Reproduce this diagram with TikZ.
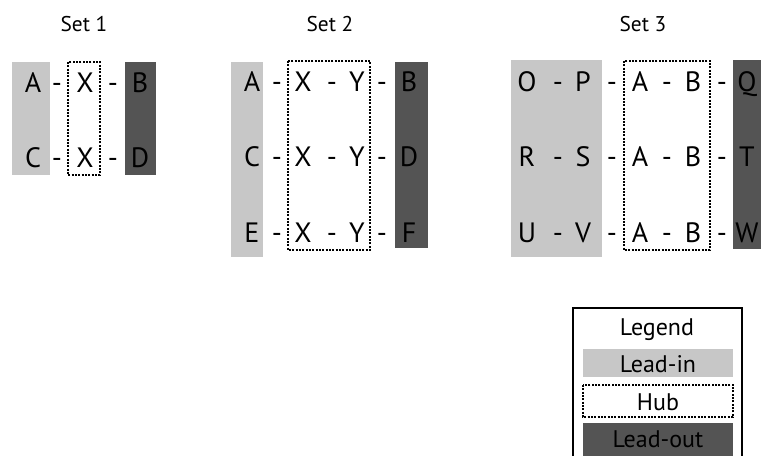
\documentclass[tikz,border=0pt]{standalone}
\usepackage{fontspec}
\setmainfont{PT Sans}
\usetikzlibrary{scopes}

\definecolor{leadingray}{gray}{0.78}
\definecolor{leadoutgray}{gray}{0.33}
\tikzset{
  leadin/.style={fill=leadingray},
  hub/.style={draw, densely dotted, line width=1.5pt},
  leadout/.style={fill=leadoutgray},
  letter/.style={inner sep=0pt, anchor=base, font=\fontsize{21}{24}\selectfont},
  settitle/.style={inner sep=0pt, anchor=base, font=\fontsize{16}{19}\selectfont},
  legendtext/.style={inner sep=0pt, anchor=base, font=\fontsize{18}{21}\selectfont},
}

\begin{document}
\begin{tikzpicture}[x=0.75pt, y=-0.75pt]
  \useasboundingbox (0,0) rectangle (761,456);
  \clip (0,0) rectangle (761,456);

  % Set 1
  \node[settitle] (t1) at (84,32) {Set 1};
  \fill[leadin] (12,62) rectangle (50,175);
  \draw[hub] (68,62) rectangle (100,175);
  \fill[leadout] (125,62) rectangle (156,175);
  \foreach \l/\r/\y [count=\i] in {A/B/93, C/D/168} {
    \node[letter] (s1l\i) at (33,\y) {\l};
    \node[letter] (s1da\i) at (57,\y) {-};
    \node[letter] (s1h\i) at (85,\y) {X};
    \node[letter] (s1db\i) at (113,\y) {-};
    \node[letter] (s1r\i) at (140,\y) {\r};
  }

  % Set 2
  \node[settitle] (t2) at (330,32) {Set 2};
  \fill[leadin] (231,62) rectangle (263,257);
  \draw[hub] (288,61) rectangle (370,250);
  \fill[leadout] (395,62) rectangle (428,248);
  \foreach \l/\r/\y [count=\i] in {A/B/92, C/D/167, E/F/243} {
    \node[letter] (s2l\i) at (252,\y) {\l};
    \node[letter] (s2da\i) at (277,\y) {-};
    \node[letter] (s2x\i) at (303,\y) {X};
    \node[letter] (s2db\i) at (332,\y) {-};
    \node[letter] (s2y\i) at (357,\y) {Y};
    \node[letter] (s2dc\i) at (382,\y) {-};
    \node[letter] (s2r\i) at (409,\y) {\r};
  }

  % Set 3
  \node[settitle] (t3) at (643,32) {Set 3};
  \fill[leadin] (511,60) rectangle (602,257);
  \draw[hub] (624,61) rectangle (710,250);
  \fill[leadout] (733,60) rectangle (775,249);
  \foreach \la/\lb/\r/\y [count=\i] in {O/P/Q/92, R/S/T/167, U/V/W/243} {
    \node[letter] (s3la\i) at (527,\y) {\la};
    \node[letter] (s3da\i) at (558,\y) {-};
    \node[letter] (s3lb\i) at (583,\y) {\lb};
    \node[letter] (s3db\i) at (612,\y) {-};
    \node[letter] (s3a\i) at (640,\y) {A};
    \node[letter] (s3dc\i) at (667,\y) {-};
    \node[letter] (s3b\i) at (693,\y) {B};
    \node[letter] (s3dd\i) at (722,\y) {-};
    \node[letter] (s3r\i) at (747,\y) {\r};
  }

  % Legend
  \draw[line width=1.6pt] (573,308) rectangle (742,475);
  \node[legendtext] (lgtitle) at (657,335) {Legend};
  \fill[leadin] (583,349) rectangle (733,377);
  \node[legendtext] (lgin) at (658,372) {Lead-in};
  \draw[hub] (583,385) rectangle (733,417);
  \node[legendtext] (lghub) at (658,410) {Hub};
  \fill[leadout] (583,423) rectangle (733,475);
  \node[legendtext] (lgout) at (658,447) {Lead-out};
\end{tikzpicture}
\end{document}
